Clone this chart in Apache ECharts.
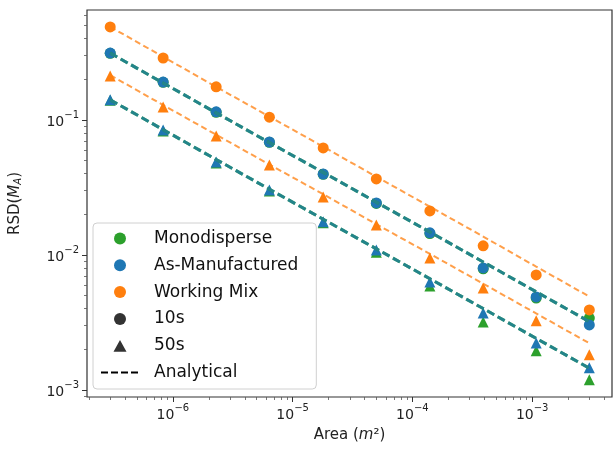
<!DOCTYPE html>
<html>
<head>
<meta charset="utf-8">
<script src="https://cdn.jsdelivr.net/npm/echarts@6.0.0/dist/echarts.min.js"></script>
<style>
  html, body { margin: 0; padding: 0; background: #fff; }
  #chart { width: 614px; height: 452px; }
</style>
</head>
<body>
<div id="chart"></div>
<script>
// areas (m^2) of the ten sample sizes
const areas = [3.0e-7, 8.3e-7, 2.3e-6, 6.4e-6, 1.8e-5, 5.0e-5, 1.4e-4, 3.9e-4, 1.08e-3, 3.0e-3]

// measured RSD, 10s exposure
const mono10 = [0.312, 0.190, 0.114, 0.0683, 0.0396, 0.0241, 0.0144, 0.0079, 0.0048, 0.00341]
const asman10 = [0.313, 0.191, 0.115, 0.0687, 0.0398, 0.0243, 0.0146, 0.00802, 0.00489, 0.00303]
const mix10 = [0.489, 0.288, 0.176, 0.105, 0.0621, 0.0366, 0.0212, 0.0117, 0.00711, 0.00392]

// measured RSD, 50s exposure
const mono50 = [0.140, 0.083, 0.048, 0.0298, 0.0173, 0.0105, 0.00589, 0.00319, 0.00195, 0.00119]
const asman50 = [0.141, 0.0843, 0.0489, 0.0303, 0.0176, 0.0109, 0.00631, 0.00372, 0.00223, 0.00146]
const mix50 = [0.212, 0.125, 0.0761, 0.0464, 0.0269, 0.0167, 0.0095, 0.0057, 0.00325, 0.00182]

// analytical curves
const monoFit10 = [0.313, 0.188, 0.113, 0.0680, 0.0409, 0.0246, 0.0148, 0.00888, 0.00534, 0.00321]
const asmanFit10 = [0.313, 0.188, 0.113, 0.0680, 0.0409, 0.0246, 0.0148, 0.00888, 0.00534, 0.00321]
const mixFit10 = [0.490, 0.294, 0.176, 0.106, 0.0634, 0.0380, 0.0228, 0.0137, 0.00820, 0.00492]
const monoFit50 = [0.141, 0.0848, 0.0510, 0.0307, 0.0184, 0.0111, 0.00667, 0.00401, 0.00241, 0.00145]
const asmanFit50 = [0.141, 0.0848, 0.0510, 0.0307, 0.0184, 0.0111, 0.00667, 0.00401, 0.00241, 0.00145]
const mixFit50 = [0.215, 0.129, 0.0778, 0.0468, 0.0282, 0.0169, 0.0102, 0.00613, 0.00369, 0.00222]

// axis ticks
const xMajor = [1e-6, 1e-5, 1e-4, 1e-3]
const yMajor = [1e-3, 1e-2, 1e-1]
const xRange = [1.92e-7, 4.64e-3]
const yRange = [8.87e-4, 0.653]

const GREEN = '#2ca02c'
const BLUE = '#1f77b4'
const ORANGE = '#ff7f0e'
const FONT = 'DejaVu Sans'

// legend triangle drawn inside a full 38x12 box so it is not stretched
const TRIANGLE_ICON = 'path://M0,0L0,0ZM38,12L38,12ZM12.5,12L19,0.3L25.5,12Z'

// minor ticks at 2..9 x 10^n inside the range
const minorTicks = (lo, hi) => {
  const out = []
  for (let e = -8; e <= 0; e++) {
    for (let m = 2; m <= 9; m++) {
      const v = m * Math.pow(10, e)
      if (v >= lo && v <= hi) out.push(v)
    }
  }
  return out
}

const pairs = ys => ys.map((y, i) => [areas[i], y])

const supLabel = v => '{a|10}{s|\u2212' + Math.round(-Math.log10(v)) + '}'
const labelRich = {
  a: { fontSize: 14, fontFamily: FONT, color: '#222', padding: [5, 0, 0, 0] },
  s: { fontSize: 10, fontFamily: FONT, color: '#222', verticalAlign: 'top' }
}

const scatter = (name, ys, color, symbol) => ({
  name,
  type: 'scatter',
  data: pairs(ys),
  symbol,
  symbolSize: 11,
  itemStyle: { color, opacity: 1 },
  z: 2
})

const fitLine = (name, ys, color, width, dash, opacity) => ({
  name,
  type: 'line',
  data: pairs(ys),
  symbol: 'none',
  lineStyle: { color, width, type: dash, opacity },
  z: 3
})

const chart = echarts.init(document.getElementById('chart'))

const option = {
  animation: false,
  backgroundColor: '#fff',
  grid: {
    left: 86, top: 10, width: 526, height: 387,
    show: true, borderColor: '#333', borderWidth: 1.2, backgroundColor: '#fff'
  },
  xAxis: [
    {
      type: 'log', logBase: 10, min: xRange[0], max: xRange[1],
      name: 'Area ({i|m}\u00b2)', nameLocation: 'middle', nameGap: 31,
      nameTextStyle: {
        fontSize: 15, fontFamily: FONT, color: '#222',
        rich: {
          i: { fontSize: 15, fontFamily: FONT, fontStyle: 'italic', color: '#222' }
        }
      },
      axisLine: { show: false },
      splitLine: { show: false },
      axisTick: { customValues: xMajor, length: 5, lineStyle: { color: '#333', width: 1 } },
      axisLabel: { customValues: xMajor, margin: 6, formatter: supLabel, rich: labelRich }
    },
    {
      type: 'log', logBase: 10, min: xRange[0], max: xRange[1], position: 'bottom',
      axisLine: { show: false }, splitLine: { show: false }, axisLabel: { show: false },
      axisTick: { customValues: minorTicks(xRange[0], xRange[1]), length: 3, lineStyle: { color: '#555', width: 0.8 } }
    }
  ],
  yAxis: [
    {
      type: 'log', logBase: 10, min: yRange[0], max: yRange[1],
      name: 'RSD({i|M}{b|A})', nameLocation: 'middle', nameGap: 64,
      nameTextStyle: {
        fontSize: 15, fontFamily: FONT, color: '#222',
        rich: {
          i: { fontSize: 15, fontFamily: FONT, fontStyle: 'italic', color: '#222' },
          b: { fontSize: 10, fontFamily: FONT, fontStyle: 'italic', color: '#222', verticalAlign: 'bottom' }
        }
      },
      axisLine: { show: false },
      splitLine: { show: false },
      axisTick: { customValues: yMajor, length: 5, lineStyle: { color: '#333', width: 1 } },
      axisLabel: { customValues: yMajor, margin: 8, formatter: supLabel, rich: labelRich }
    },
    {
      type: 'log', logBase: 10, min: yRange[0], max: yRange[1], position: 'left',
      axisLine: { show: false }, splitLine: { show: false }, axisLabel: { show: false },
      axisTick: { customValues: minorTicks(yRange[0], yRange[1]), length: 3, lineStyle: { color: '#555', width: 0.8 } }
    }
  ],
  legend: {
    orient: 'vertical',
    left: 93, top: 223,
    padding: [7, 18, 8, 7],
    itemWidth: 38, itemHeight: 12, itemGap: 9.8,
    backgroundColor: 'rgba(255,255,255,0.85)',
    borderColor: '#d0d0d0', borderWidth: 1, borderRadius: 4,
    textStyle: { fontSize: 17, lineHeight: 16, fontFamily: FONT, color: '#111', padding: [0, 0, 0, 10] },
    data: [
      { name: 'Monodisperse', icon: 'circle' },
      { name: 'As-Manufactured', icon: 'circle' },
      { name: 'Working Mix', icon: 'circle' },
      { name: '10s', icon: 'circle' },
      { name: '50s', icon: TRIANGLE_ICON },
      { name: 'Analytical', itemStyle: { opacity: 0 } }
    ]
  },
  series: [
    scatter('Monodisperse', mono10, GREEN, 'circle'),
    scatter('Monodisperse', mono50, GREEN, 'triangle'),
    scatter('As-Manufactured', asman10, BLUE, 'circle'),
    scatter('As-Manufactured', asman50, BLUE, 'triangle'),
    scatter('Working Mix', mix10, ORANGE, 'circle'),
    scatter('Working Mix', mix50, ORANGE, 'triangle'),
    fitLine('Monodisperse fit 10s', monoFit10, GREEN, 3, [8, 4], 1),
    fitLine('Monodisperse fit 50s', monoFit50, GREEN, 3, [8, 4], 1),
    fitLine('As-Manufactured fit 10s', asmanFit10, BLUE, 3, [8, 4], 0.7),
    fitLine('As-Manufactured fit 50s', asmanFit50, BLUE, 3, [8, 4], 0.7),
    fitLine('Working Mix fit 10s', mixFit10, ORANGE, 2, [6, 3.5], 0.75),
    fitLine('Working Mix fit 50s', mixFit50, ORANGE, 2, [6, 3.5], 0.75),
    // legend-only entries
    { name: '10s', type: 'scatter', data: [], symbol: 'circle', itemStyle: { color: '#000' } },
    { name: '50s', type: 'scatter', data: [], symbol: 'triangle', itemStyle: { color: '#000' } },
    { name: 'Analytical', type: 'line', data: [], symbol: 'none', showSymbol: false, itemStyle: { color: '#000' }, lineStyle: { color: '#000', width: 2, type: [7, 3] } }
  ]
}

chart.setOption(option)
</script>
</body>
</html>
